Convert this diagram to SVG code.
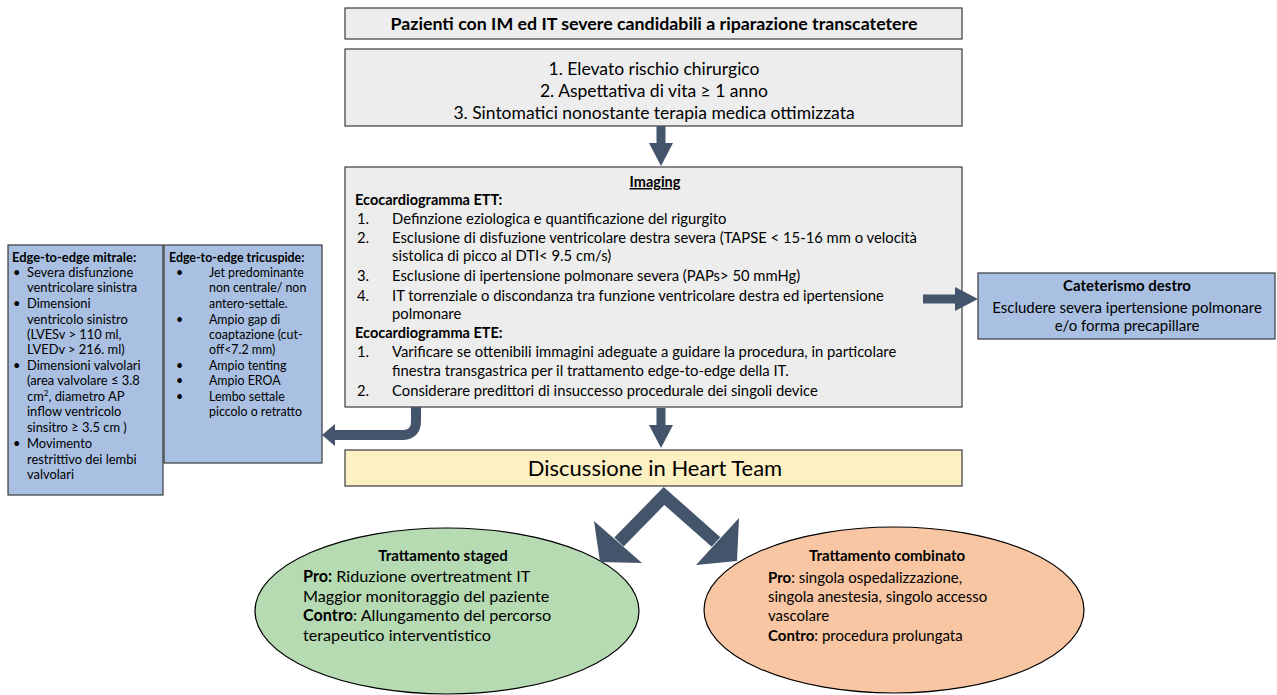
<svg xmlns="http://www.w3.org/2000/svg" width="1277" height="695" viewBox="0 0 1277 695">
<style>
text{font-family:Lato,"Liberation Sans",sans-serif;fill:#000}
.box{stroke:#3a3a3a;stroke-width:1.2}
.gray{fill:#ededed}
.blue{fill:#a9c0e2}
.b{font-weight:bold}
.c{text-anchor:middle}
.s14{font-size:14.8px}
.s12{font-size:12.4px}
.s13{font-size:12.9px}
.s15{font-size:15px}
.s16{font-size:16.2px}
.arr{fill:#44546a}
.shaft{fill:none;stroke:#44546a}
</style>
<rect width="1277" height="695" fill="#fff"/>

<g id="header">
<rect class="box gray" x="345" y="8" width="617" height="31"/>
<text class="b c" x="654" y="29.5" font-size="17.8">Pazienti con IM ed IT severe candidabili a riparazione transcatetere</text>
</g>

<g id="criteria">
<rect class="box gray" x="345" y="49" width="617" height="77"/>
<text class="c" x="654" y="75" font-size="17.5">1. Elevato rischio chirurgico</text>
<text class="c" x="654" y="97" font-size="17.5">2. Aspettativa di vita  ≥ 1 anno</text>
<text class="c" x="654" y="119" font-size="17.5">3. Sintomatici nonostante terapia medica ottimizzata</text>
</g>

<g id="imaging">
<rect class="box gray" x="345" y="167" width="617" height="240"/>
<text class="b c" font-size="14.5" x="655" y="187" text-decoration="underline">Imaging</text>
<text class="b" font-size="14.5" x="355" y="205">Ecocardiogramma ETT:</text>
<g class="s14">
<text x="357" y="224">1.</text><text x="392" y="224">Definzione eziologica e quantificazione del rigurgito</text>
<text x="357" y="243">2.</text><text x="392" y="243">Esclusione di disfuzione ventricolare destra severa (TAPSE &lt; 15-16 mm o velocità</text>
<text x="392" y="261">sistolica di picco al DTI&lt; 9.5 cm/s)</text>
<text x="357" y="281">3.</text><text x="392" y="281">Esclusione di ipertensione polmonare severa (PAPs&gt; 50 mmHg)</text>
<text x="357" y="301">4.</text><text x="392" y="301">IT torrenziale o discondanza tra funzione ventricolare destra ed ipertensione</text>
<text x="392" y="319">polmonare</text>
</g>
<text class="b" font-size="14.5" x="355" y="338">Ecocardiogramma ETE:</text>
<g class="s14">
<text x="357" y="357">1.</text><text x="392" y="357">Varificare se ottenibili immagini adeguate a guidare la procedura, in particolare</text>
<text x="392" y="376">finestra transgastrica per il trattamento edge-to-edge della IT.</text>
<text x="357" y="396">2.</text><text x="392" y="396">Considerare predittori di insuccesso procedurale dei singoli device</text>
</g>
</g>

<g id="heartteam">
<rect class="box" fill="#fdf0c3" x="345" y="450" width="617" height="36"/>
<text class="c" x="655" y="476" font-size="22">Discussione in Heart Team</text>
</g>

<g id="mitrale">
<rect class="box blue" x="8" y="245" width="155" height="250"/>
<g class="s13">
<text class="b" x="12" y="262">Edge-to-edge mitrale:</text>
<text x="13" y="277">•</text><text x="27" y="277">Severa disfunzione</text>
<text x="27" y="292">ventricolare sinistra</text>
<text x="13" y="308">•</text><text x="27" y="308">Dimensioni</text>
<text x="27" y="324">ventricolo sinistro</text>
<text x="27" y="339">(LVESv &gt; 110 ml,</text>
<text x="27" y="354">LVEDv &gt; 216. ml)</text>
<text x="13" y="370">•</text><text x="27" y="370">Dimensioni valvolari</text>
<text x="27" y="385">(area valvolare ≤ 3.8</text>
<text x="27" y="401">cm<tspan font-size="8" dy="-5">2</tspan><tspan dy="5">, diametro AP</tspan></text>
<text x="27" y="416">inflow ventricolo</text>
<text x="27" y="432">sinsitro ≥ 3.5 cm )</text>
<text x="13" y="448">•</text><text x="27" y="448">Movimento</text>
<text x="27" y="464">restrittivo dei lembi</text>
<text x="27" y="479">valvolari</text>
</g>
</g>

<g id="tricuspide">
<rect class="box blue" x="164" y="245" width="158" height="218"/>
<g class="s12">
<text class="b" x="169" y="262">Edge-to-edge tricuspide:</text>
<text x="176" y="277">•</text><text x="209" y="277">Jet predominante</text>
<text x="209" y="292">non centrale/ non</text>
<text x="209" y="308">antero-settale.</text>
<text x="176" y="324">•</text><text x="209" y="324">Ampio gap di</text>
<text x="209" y="339">coaptazione (cut-</text>
<text x="209" y="354">off&lt;7.2 mm)</text>
<text x="176" y="370">•</text><text x="209" y="370">Ampio tenting</text>
<text x="176" y="385">•</text><text x="209" y="385">Ampio EROA</text>
<text x="176" y="401">•</text><text x="209" y="401">Lembo settale</text>
<text x="209" y="416">piccolo o retratto</text>
</g>
</g>

<g id="cateterismo">
<rect class="box blue" x="978" y="273" width="297" height="66"/>
<text class="b c s15" x="1127" y="291">Cateterismo destro</text>
<text class="c s15" x="1127" y="313">Escludere severa ipertensione polmonare</text>
<text class="c s15" x="1127" y="331">e/o forma precapillare</text>
</g>

<g id="staged">
<ellipse cx="447" cy="611" rx="192" ry="83" fill="#b6dbb2" stroke="#000" stroke-width="1.2"/>
<text class="b c s15" x="443" y="561">Trattamento staged</text>
<text class="s16" x="303" y="582"><tspan class="b">Pro:</tspan> Riduzione overtreatment IT</text>
<text class="s16" x="303" y="602">Maggior monitoraggio del paziente</text>
<text class="s16" x="303" y="621"><tspan class="b">Contro</tspan>: Allungamento del percorso</text>
<text class="s16" x="303" y="641">terapeutico interventistico</text>
</g>

<g id="combinato">
<ellipse cx="894" cy="610" rx="190" ry="83" fill="#f8c6a2" stroke="#000" stroke-width="1.2"/>
<text class="b c s15" x="887" y="561">Trattamento combinato</text>
<text class="s15" x="768" y="583"><tspan class="b">Pro</tspan>: singola ospedalizzazione,</text>
<text class="s15" x="768" y="602">singola anestesia, singolo accesso</text>
<text class="s15" x="768" y="621">vascolare</text>
<text class="s15" x="768" y="641"><tspan class="b">Contro</tspan>: procedura prolungata</text>
</g>

<g id="connectors">
<path class="shaft" d="M661,126V144" stroke-width="9"/>
<polygon class="arr" points="649,143 673,143 661,166"/>
<path class="shaft" d="M661,408V426" stroke-width="9"/>
<polygon class="arr" points="649,425 673,425 661,448"/>
<path class="shaft" d="M923,299H956" stroke-width="9"/>
<polygon class="arr" points="955,287 978,299 955,311"/>
<path class="shaft" d="M416,407V421Q416,435 402,435H334" stroke-width="10"/>
<polygon class="arr" points="335,424 322,435 335,446"/>
<polyline class="shaft" points="619,542 664,496 716,542" stroke-width="13" stroke-linejoin="miter"/>
<polygon class="arr" points="594,521 642,563 600,562"/>
<polygon class="arr" points="739,518 696,565 737,561"/>
</g>
</svg>
